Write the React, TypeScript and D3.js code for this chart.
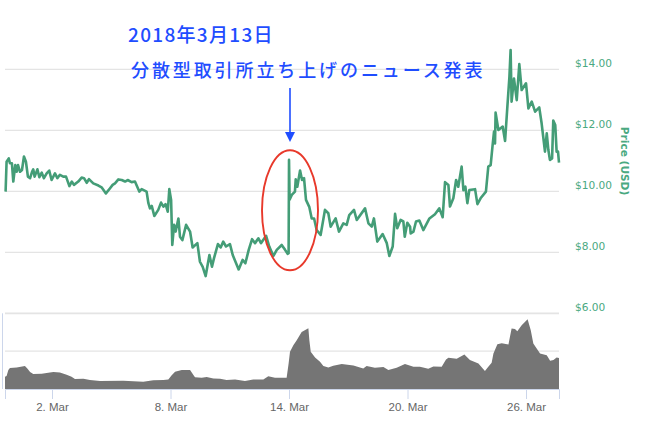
import React, { useEffect, useRef } from "react";
import * as d3 from "d3";

const priceDays = [-0.35,-0.30,-0.19,-0.13,-0.03,0.04,0.14,0.21,0.28,0.38,0.48,0.58,0.68,0.78,0.89,0.99,1.05,1.12,1.26,1.36,1.48,1.59,1.73,1.86,1.98,2.15,2.27,2.40,2.57,2.71,2.88,3.00,3.11,3.33,3.50,3.62,3.76,3.87,4.09,4.35,4.51,4.73,4.94,5.07,5.19,5.36,5.53,5.70,5.83,6.03,6.20,6.42,6.54,6.79,6.88,6.96,7.05,7.18,7.38,7.52,7.64,7.75,7.86,7.94,8.03,8.09,8.18,8.26,8.40,8.48,8.60,8.79,8.99,9.12,9.36,9.49,9.63,9.78,9.97,10.10,10.20,10.40,10.54,10.67,10.81,11.01,11.15,11.45,11.65,11.79,11.96,12.13,12.28,12.45,12.58,12.84,13.00,13.21,13.38,13.63,13.80,13.93,13.98,14.00,14.03,14.14,14.30,14.34,14.42,14.56,14.66,14.76,14.86,15.03,15.15,15.27,15.40,15.60,15.82,15.99,16.11,16.36,16.53,16.75,16.92,17.05,17.29,17.43,17.85,18.02,18.19,18.30,18.47,18.74,18.95,19.08,19.25,19.37,19.48,19.65,19.79,19.86,19.99,20.13,20.16,20.30,20.43,20.60,20.80,21.11,21.39,21.61,21.78,21.90,22.07,22.15,22.32,22.46,22.57,22.74,22.83,22.93,23.03,23.13,23.42,23.54,23.70,23.97,24.09,24.21,24.31,24.38,24.43,24.46,24.60,24.82,24.94,25.05,25.16,25.22,25.27,25.39,25.53,25.66,25.78,26.00,26.12,26.29,26.46,26.67,26.79,26.88,26.96,27.05,27.13,27.21,27.32,27.38,27.48,27.55,27.62,27.67];
const priceValues = [9.99,10.97,11.08,10.92,10.92,10.32,10.86,10.64,10.86,10.64,10.70,11.14,10.97,10.48,10.43,10.64,10.72,10.48,10.72,10.46,10.61,10.43,10.59,10.68,10.37,10.59,10.43,10.54,10.48,10.48,10.17,10.32,10.21,10.32,10.45,10.43,10.28,10.40,10.26,10.19,10.13,9.93,10.10,10.21,10.26,10.39,10.37,10.32,10.37,10.30,10.32,9.99,10.07,9.99,9.61,9.44,9.52,9.19,9.39,9.63,9.50,9.58,9.33,10.07,9.72,8.24,8.90,8.68,9.11,8.51,8.40,8.90,8.68,8.16,8.30,7.69,7.52,7.22,7.91,7.53,7.80,8.27,8.16,8.35,8.19,8.27,7.91,7.44,7.75,7.64,8.08,8.43,8.30,8.46,8.30,8.54,8.19,7.88,8.08,8.24,8.08,7.95,7.97,11.03,9.72,9.88,9.99,10.39,10.15,10.68,10.37,10.43,9.72,9.48,9.11,9.11,8.73,8.57,9.39,9.28,8.84,9.11,8.68,8.95,8.90,9.22,9.39,9.06,9.44,8.95,8.84,9.11,8.35,8.60,8.30,7.88,8.19,9.26,8.79,9.06,9.01,8.51,8.97,8.84,8.62,8.68,9.01,9.04,8.73,9.11,9.25,9.44,9.15,10.30,10.21,9.50,9.77,10.37,10.15,10.81,10.04,10.15,9.61,10.04,10.07,9.58,9.77,9.99,10.81,10.86,11.52,11.96,11.57,12.58,12.01,12.12,11.65,12.72,13.76,14.63,12.94,13.70,12.99,14.17,13.32,13.54,12.72,12.94,12.61,12.75,12.23,11.74,11.30,11.90,11.36,11.03,11.08,12.32,12.17,11.30,11.30,10.94];

const volumeDays = [-0.38,-0.30,-0.21,-0.13,0.21,0.63,0.75,0.89,1.05,1.48,1.81,2.07,2.40,2.74,2.99,3.16,3.59,3.92,4.43,5.61,6.62,7.13,7.64,7.89,8.06,8.23,8.57,8.99,9.16,9.24,9.58,9.83,10.17,10.51,10.84,11.27,11.77,12.19,12.70,12.95,13.29,13.88,13.98,14.05,14.22,14.39,14.64,14.98,15.03,15.10,15.32,15.57,15.74,15.99,16.24,16.67,17.26,17.76,17.93,18.35,18.78,19.03,19.45,19.87,20.30,20.63,21.05,21.31,21.73,21.95,22.07,22.49,22.88,23.16,23.59,23.92,24.09,24.26,24.35,24.55,24.77,25.11,25.27,25.44,25.56,25.78,26.08,26.24,26.37,26.71,27.05,27.22,27.39,27.55,27.67];
const volumeValues = [16.2,17.1,25.0,27.6,28.5,30.3,27.2,22.4,19.7,20.2,21.5,22.4,21.9,18.9,16.2,13.2,13.6,11.8,10.5,11.0,9.6,11.4,11.8,12.7,18.0,22.8,25.0,25.0,18.4,15.4,14.9,15.8,14.0,13.6,11.8,12.7,10.5,12.7,12.7,16.7,14.9,14.9,33.8,49.1,57.9,64.5,75.4,80.3,64.5,49.1,41.7,36.0,30.3,28.5,30.7,32.9,31.1,27.2,30.3,28.1,28.9,25.0,28.1,32.9,29.4,29.4,26.8,29.8,29.4,39.0,41.2,39.9,45.6,38.2,33.8,23.7,29.4,34.6,46.9,59.2,60.5,58.8,79.8,79.4,76.3,84.2,92.1,77.6,60.1,46.9,44.7,37.3,38.2,41.7,40.8];

const priceTicks = [6, 8, 10, 12, 14];
const volumeTicks = [50, 100];
const dateTicks = [2, 8, 14, 20, 26];
const titleLine1 = "2018年3月13日";
const titleLine2 = "分散型取引所立ち上げのニュース発表";
const priceAxisTitle = "Price (USD)";

const DAY = 86400000;
const toDate = (d: number) => new Date(Date.UTC(2018, 2, 0) + d * DAY);

export default function App() {
  const ref = useRef<SVGSVGElement>(null);
  useEffect(() => {
    const svg = d3.select(ref.current!);
    svg.selectAll("*").remove();
    const left = 5, right = 559;
    const x = d3.scaleUtc().domain([toDate(-0.38), toDate(27.67)]).range([left, right]);
    const y = d3.scaleLinear().domain([6, 14]).range([313.3, 69.3]);
    const yv = d3.scaleLinear().domain([0, 100]).range([389, 313.3]);
    const sans = "'Liberation Sans', Arial, sans-serif";
    const green = "#4aa981";

    svg.append("g").selectAll("line").data(priceTicks.filter(t => t > 6)).join("line")
      .attr("x1", left).attr("x2", right).attr("y1", d => y(d)).attr("y2", d => y(d))
      .attr("stroke", "#e4e4e4").attr("stroke-width", 1.2);

    svg.append("g").selectAll("text").data(priceTicks).join("text")
      .attr("x", 575).attr("y", d => y(d) - 2.5)
      .attr("font-family", "'DejaVu Sans', sans-serif").attr("font-size", 10.6).attr("fill", green)
      .text(d => "$" + d3.format(".2f")(d));

    svg.append("text")
      .attr("transform", "translate(620.5,161) rotate(90)")
      .attr("text-anchor", "middle")
      .attr("font-family", "'DejaVu Sans', sans-serif").attr("font-size", 10.6).attr("font-weight", "bold")
      .attr("fill", green).text(priceAxisTitle);

    svg.append("g").selectAll("line").data(volumeTicks).join("line")
      .attr("x1", left).attr("x2", right).attr("y1", d => yv(d)).attr("y2", d => yv(d))
      .attr("stroke", "#e4e4e4").attr("stroke-width", d => d === 100 ? 1.8 : 1.2);

    const area = d3.area<number>()
      .x((_, i) => x(toDate(volumeDays[i])))
      .y0(yv(0)).y1(d => yv(d));
    svg.append("path").attr("d", area(volumeValues)!).attr("fill", "#757575");

    const line = d3.line<number>()
      .x((_, i) => x(toDate(priceDays[i])))
      .y(d => y(d));
    svg.append("path").attr("d", line(priceValues)!)
      .attr("fill", "none").attr("stroke", "#449d77").attr("stroke-width", 2.6)
      .attr("stroke-linejoin", "round");

    const axis = d3.axisBottom(x)
      .tickValues(dateTicks.map(toDate))
      .tickFormat((d) => d3.utcFormat("%-d. %b")(d as Date))
      .tickSize(10).tickPadding(4);
    const gx = svg.append("g").attr("transform", `translate(0,${yv(0)})`).call(axis);
    gx.select(".domain").attr("stroke", "#ccd6eb");
    gx.selectAll(".tick line").attr("stroke", "#ccd6eb");
    gx.selectAll(".tick text").attr("fill", "#666666")
      .attr("font-family", sans).attr("font-size", 11.5);

    svg.append("line").attr("x1", 2.5).attr("x2", 2.5).attr("y1", yv(100)).attr("y2", yv(0))
      .attr("stroke", "#ccd6eb").attr("stroke-width", 1);

    const cjk = "'Noto Sans CJK JP', sans-serif";
    const blue = "#1f4dff";
    svg.append("text").attr("x", 128).attr("y", 42).attr("font-family", cjk).attr("font-weight", 500)
      .attr("font-size", 19).attr("letter-spacing", 1.3).attr("fill", blue).text(titleLine1);
    svg.append("text").attr("x", 131).attr("y", 77).attr("font-family", cjk).attr("font-weight", 500)
      .attr("font-size", 18).attr("letter-spacing", 2.9).attr("fill", blue).text(titleLine2);
    svg.append("line").attr("x1", 290).attr("x2", 290).attr("y1", 88).attr("y2", 133)
      .attr("stroke", blue).attr("stroke-width", 1.6);
    const head = d3.path();
    head.moveTo(285, 132); head.lineTo(295, 132); head.lineTo(290, 142); head.closePath();
    svg.append("path").attr("d", head.toString()).attr("fill", blue);
    svg.append("ellipse").attr("cx", 290).attr("cy", 210.3).attr("rx", 28).attr("ry", 60)
      .attr("fill", "none").attr("stroke", "#e8392b").attr("stroke-width", 1.9);
  }, []);
  return <svg ref={ref} width={645} height={425} style={{ position: "absolute", left: 0, top: 0, background: "#fff" }} />;
}
